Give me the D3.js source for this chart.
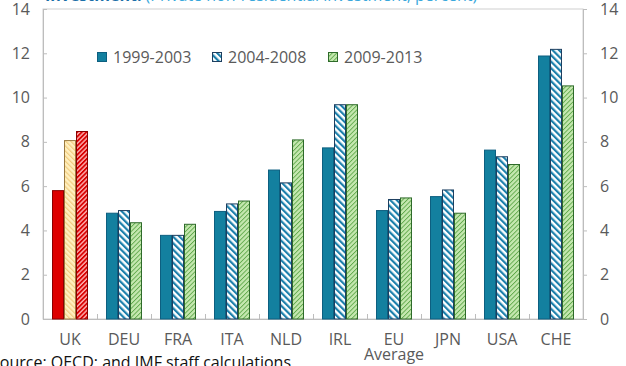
<!DOCTYPE html>
<html><head><meta charset="utf-8">
<script src="https://cdn.jsdelivr.net/npm/d3@7"></script>
<style>
body{margin:0;background:#fff;}
svg{display:block;font-family:"Open Sans","Noto Sans",sans-serif;}
</style></head>
<body>
<svg id="c" width="626" height="366"></svg>
<script>
const categories = ["UK","DEU","FRA","ITA","NLD","IRL","EU\nAverage","JPN","USA","CHE"];
const series1 = [5.82, 4.80, 3.80, 4.88, 6.75, 7.75, 4.92, 5.55, 7.65, 11.90];
const series2 = [8.08, 4.92, 3.80, 5.22, 6.17, 9.70, 5.42, 5.85, 7.35, 12.20];
const series3 = [8.49, 4.37, 4.30, 5.35, 8.11, 9.70, 5.49, 4.80, 7.00, 10.55];
const seriesNames = ["1999-2003","2004-2008","2009-2013"];
const yTicks = [0,2,4,6,8,10,12,14];

const svg = d3.select("#c");
const L = 43, R = 583, T = 9, B = 319;
const defs = svg.append("defs");
function hatch(id, bg, fg, angle, size, sw){
  const p = defs.append("pattern").attr("id",id).attr("patternUnits","userSpaceOnUse")
    .attr("width",size).attr("height",size).attr("patternTransform",`rotate(${angle})`);
  p.append("rect").attr("width",size).attr("height",size).attr("fill",bg);
  p.append("rect").attr("width",sw).attr("height",size).attr("fill",fg);
}
hatch("hBlue","#ffffff","#1b7fab",-45,4.6,2.2);
hatch("hGreen","#c5e8b0","#5fa84a",45,3.2,0.9);
hatch("hYellow","#fff0c0","#f2cc80",-45,3.6,1.2);
hatch("hRed","#ffb0b0","#d80000",45,3.2,1.8);

const x0 = d3.scaleBand().domain(categories).range([L,R]).paddingInner(0).paddingOuter(0);
const x1 = d3.scaleBand().domain([0,1,2]).range([0,36]);
const y = d3.scaleLinear().domain([0,14]).range([B,T]);

svg.append("rect").attr("x",L).attr("y",T).attr("width",R-L).attr("height",B-T)
  .attr("fill","none").attr("stroke","#d0d0d0").attr("stroke-width",1);

const axL = svg.append("g").attr("transform",`translate(${L},0)`)
  .call(d3.axisRight(y).tickValues(yTicks).tickSize(4).tickFormat(""));
const axR = svg.append("g").attr("transform",`translate(${R},0)`)
  .call(d3.axisRight(y).tickValues(yTicks).tickSize(4).tickFormat(""));
[axL,axR].forEach(a=>{a.selectAll("line").attr("stroke","#bdbdbd");a.select(".domain").attr("stroke","#bdbdbd");});

const lbl = (x,anchor)=>svg.append("g").selectAll("text").data(yTicks).join("text")
  .attr("x",x).attr("y",d=>y(d)).attr("dy","0.35em").attr("text-anchor",anchor)
  .attr("font-size",16).attr("fill","#5a5a5a").text(d=>d);
lbl(30,"end"); lbl(600,"start");

svg.append("line").attr("x1",L).attr("x2",R).attr("y1",B+0.5).attr("y2",B+0.5).attr("stroke","#bdbdbd");
svg.append("g").selectAll("line").data(categories.slice(1)).join("line")
  .attr("x1",d=>Math.round(x0(d))+0.5).attr("x2",d=>Math.round(x0(d))+0.5)
  .attr("y1",B).attr("y2",B-5).attr("stroke","#bdbdbd");

const catT = svg.append("g").selectAll("text").data(categories).join("text")
  .attr("x",d=>x0(d)+x0.bandwidth()/2).attr("y",345).attr("text-anchor","middle")
  .attr("font-size",16).attr("fill","#5a5a5a");
catT.each(function(d){
  const parts=d.split("\n");
  d3.select(this).selectAll("tspan").data(parts).join("tspan")
    .attr("x",x0(d)+x0.bandwidth()/2).attr("dy",(p,i)=>i?15:0).text(p=>p);
});

const fills = [
  ["#dd0000","url(#hYellow)","url(#hRed)"],
  ["#13809f","url(#hBlue)","url(#hGreen)"]
];
const strokes = [
  ["#8a0000","#9a7a40","#8a0000"],
  ["#0d5f80","#1d3f60","#2e6a2a"]
];
const all = [series1,series2,series3];
const g = svg.append("g");
categories.forEach((c,i)=>{
  const k = i===0?0:1;
  all.forEach((s,j)=>{
    g.append("rect")
      .attr("x",x0(c)+9+x1(j)+0.5).attr("y",y(s[i])+0.5)
      .attr("width",x1.bandwidth()-1).attr("height",B-y(s[i])-0.5)
      .attr("fill",fills[k][j]).attr("stroke",strokes[k][j]).attr("stroke-width",1);
  });
});

const legX = [97,212,328];
const legFill = fills[1];
seriesNames.forEach((n,j)=>{
  svg.append("rect").attr("x",legX[j]+0.5).attr("y",52.5).attr("width",9).attr("height",9)
    .attr("fill",legFill[j]).attr("stroke",strokes[1][j]);
  svg.append("text").attr("x",legX[j]+16).attr("y",63).attr("font-size",16).attr("fill","#5a5a5a").text(n);
});

const tt = svg.append("text").attr("x",45).attr("y",1).attr("font-size",16);
tt.append("tspan").attr("fill","#1a6fa8").attr("font-weight","bold").text("Investment:");
tt.append("tspan").attr("fill","#3aa8dc").text(" (Private non-residential investment, percent)");

svg.append("text").attr("x",-9).attr("y",368).attr("font-size",16).attr("fill","#111")
  .text("Source: OECD; and IMF staff calculations.");
</script>
</body></html>
